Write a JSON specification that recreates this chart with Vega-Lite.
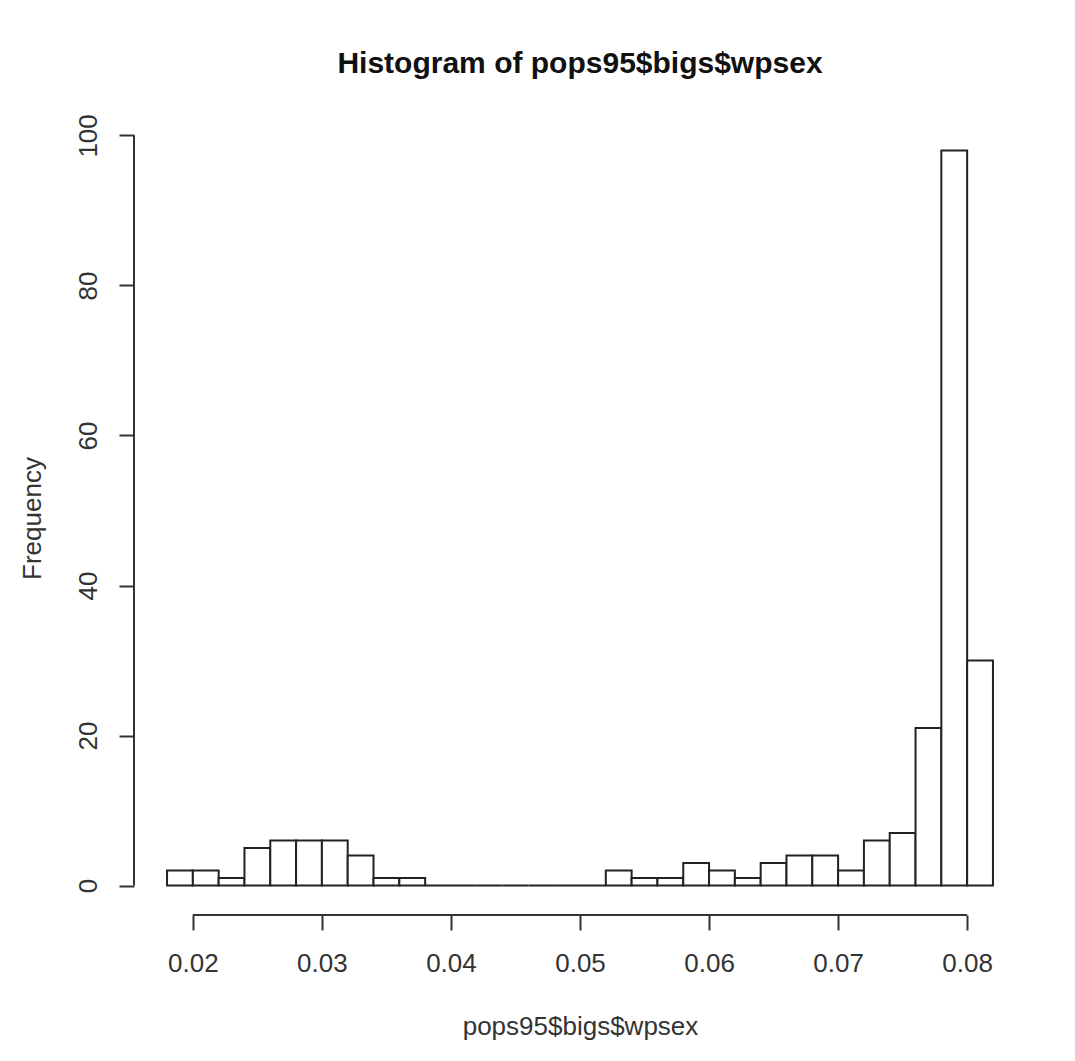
{
  "$schema": "https://vega.github.io/schema/vega-lite/v6.json",
  "width": 892,
  "height": 794,
  "autosize": "none",
  "padding": {"left": 134, "top": 121, "right": 49, "bottom": 146},
  "background": "white",
  "title": {"text": "Histogram of pops95$bigs$wpsex", "fontSize": 30, "font": "Liberation Sans", "fontWeight": "bold", "color": "#111", "offset": 35, "anchor": "middle"},
  "config": {"view": {"stroke": null}},
  "data": {"values": [
    {"bin_start": 0.018, "bin_end": 0.020, "count": 2},
    {"bin_start": 0.020, "bin_end": 0.022, "count": 2},
    {"bin_start": 0.022, "bin_end": 0.024, "count": 1},
    {"bin_start": 0.024, "bin_end": 0.026, "count": 5},
    {"bin_start": 0.026, "bin_end": 0.028, "count": 6},
    {"bin_start": 0.028, "bin_end": 0.030, "count": 6},
    {"bin_start": 0.030, "bin_end": 0.032, "count": 6},
    {"bin_start": 0.032, "bin_end": 0.034, "count": 4},
    {"bin_start": 0.034, "bin_end": 0.036, "count": 1},
    {"bin_start": 0.036, "bin_end": 0.038, "count": 1},
    {"bin_start": 0.038, "bin_end": 0.040, "count": 0},
    {"bin_start": 0.040, "bin_end": 0.042, "count": 0},
    {"bin_start": 0.042, "bin_end": 0.044, "count": 0},
    {"bin_start": 0.044, "bin_end": 0.046, "count": 0},
    {"bin_start": 0.046, "bin_end": 0.048, "count": 0},
    {"bin_start": 0.048, "bin_end": 0.050, "count": 0},
    {"bin_start": 0.050, "bin_end": 0.052, "count": 0},
    {"bin_start": 0.052, "bin_end": 0.054, "count": 2},
    {"bin_start": 0.054, "bin_end": 0.056, "count": 1},
    {"bin_start": 0.056, "bin_end": 0.058, "count": 1},
    {"bin_start": 0.058, "bin_end": 0.060, "count": 3},
    {"bin_start": 0.060, "bin_end": 0.062, "count": 2},
    {"bin_start": 0.062, "bin_end": 0.064, "count": 1},
    {"bin_start": 0.064, "bin_end": 0.066, "count": 3},
    {"bin_start": 0.066, "bin_end": 0.068, "count": 4},
    {"bin_start": 0.068, "bin_end": 0.070, "count": 4},
    {"bin_start": 0.070, "bin_end": 0.072, "count": 2},
    {"bin_start": 0.072, "bin_end": 0.074, "count": 6},
    {"bin_start": 0.074, "bin_end": 0.076, "count": 7},
    {"bin_start": 0.076, "bin_end": 0.078, "count": 21},
    {"bin_start": 0.078, "bin_end": 0.080, "count": 98},
    {"bin_start": 0.080, "bin_end": 0.082, "count": 30}
  ]},
  "layer": [
    {
      "mark": {"type": "rect", "fill": "white", "stroke": "#222", "strokeWidth": 2},
      "encoding": {
        "x": {"field": "bin_start", "type": "quantitative",
          "scale": {"domain": [0.01544, 0.08456], "nice": false, "zero": false},
          "axis": {"values": [0.02, 0.03, 0.04, 0.05, 0.06, 0.07, 0.08], "format": ".2f", "domain": false, "grid": false,
            "tickSize": 15, "tickColor": "#333", "tickWidth": 2, "labelFontSize": 26, "labelFont": "Liberation Sans", "labelColor": "#333",
            "labelPadding": 20, "labelFlush": false, "labelOverlap": false,
            "title": "pops95$bigs$wpsex", "titleFont": "Liberation Sans", "titleFontSize": 26, "titleFontWeight": "normal", "titleColor": "#333", "titlePadding": 37}},
        "x2": {"field": "bin_end"},
        "y": {"field": "count", "type": "quantitative",
          "scale": {"domain": [-3.92, 101.92], "nice": false, "zero": false},
          "axis": {"values": [0, 20, 40, 60, 80, 100], "format": "d", "domain": false, "grid": false, "labelAngle": 270,
            "tickSize": 15, "tickColor": "#333", "tickWidth": 2, "labelFontSize": 26, "labelFont": "Liberation Sans", "labelColor": "#333",
            "labelPadding": 18, "labelFlush": false, "labelOverlap": false,
            "title": "Frequency", "titleFont": "Liberation Sans", "titleFontSize": 26, "titleFontWeight": "normal", "titleColor": "#333", "titlePadding": 30}},
        "y2": {"datum": 0}
      }
    },
    {
      "data": {"values": [{}]},
      "mark": {"type": "rule", "stroke": "#333", "strokeWidth": 2},
      "encoding": {"x": {"datum": 0.02}, "x2": {"datum": 0.08}, "y": {"datum": -3.92}}
    },
    {
      "data": {"values": [{}]},
      "mark": {"type": "rule", "stroke": "#333", "strokeWidth": 2},
      "encoding": {"x": {"datum": 0.01544}, "y": {"datum": 0}, "y2": {"datum": 100}}
    }
  ]
}
